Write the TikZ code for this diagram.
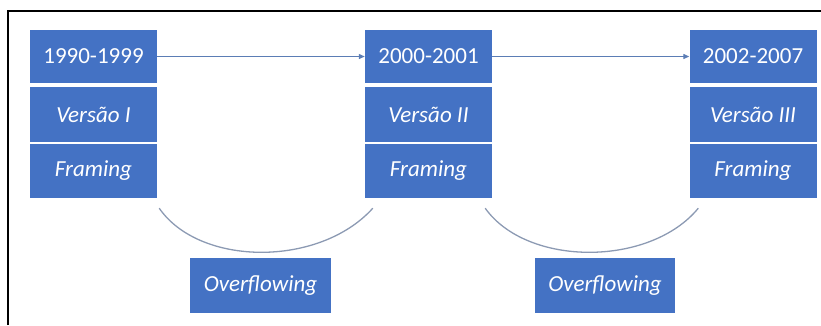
\documentclass[tikz,border=0pt]{standalone}
\usepackage{fontspec}
\setmainfont{Carlito}
\usetikzlibrary{arrows.meta,calc}
\definecolor{boxblue}{HTML}{4472C4}
\definecolor{arrowblue}{HTML}{5B7DB5}
\definecolor{arcgrey}{HTML}{8C9AB3}
\begin{document}
\begin{tikzpicture}[x=1pt,y=-1pt,
  bx/.style={fill=boxblue, draw=none, text=white, minimum width=127pt, inner sep=0pt, font=\fontsize{23}{25}\selectfont},
  it/.style={bx, font=\fontsize{23}{25}\selectfont\itshape},
  conn/.style={arrowblue, line width=1.2pt, -{Triangle[length=6pt,width=5pt]}},
  arc/.style={arcgrey, line width=1.3pt}]
\useasboundingbox (0,0) rectangle (821,325);
\draw[line width=2.2pt] (8,325) -- (8,11) -- (821,11);
% column 1
\node[bx, minimum height=53pt] (y1) at (93.5,56.5) {1990-1999};
\node[it, minimum height=55pt] (v1) at (93.5,114.5) {Versão I};
\node[it, minimum height=54pt] (f1) at (93.5,171) {Framing};
% column 2
\node[bx, minimum height=53pt] (y2) at (428.5,56.5) {2000-2001};
\node[it, minimum height=55pt] (v2) at (428.5,114.5) {Versão II};
\node[it, minimum height=54pt] (f2) at (428.5,171) {Framing};
% column 3
\node[bx, minimum height=53pt] (y3) at (753,56.5) {2002-2007};
\node[it, minimum height=55pt] (v3) at (753,114.5) {Versão III};
\node[it, minimum height=54pt] (f3) at (753,171) {Framing};
% overflowing
\node[it, minimum width=141pt, minimum height=55pt] (o1) at (260.5,285.5) {Overflowing};
\node[it, minimum width=140pt, minimum height=55pt] (o2) at (605,285.5) {Overflowing};
% arrows
\draw[conn] (y1.east) -- (y2.west);
\draw[conn] (y2.east) -- (y3.west);
% arcs
\coordinate (a1s) at ($(f1.south east)+(2,10)$);
\coordinate (a1e) at ($(f2.south west)+(8,10)$);
\coordinate (a2s) at ($(f2.south east)+(-7,10)$);
\coordinate (a2e) at ($(f3.south west)+(9,10)$);
\draw[arc] (a1s) .. controls (200,267) and (320,267) .. (a1e);
\draw[arc] (a2s) .. controls (527,267) and (650,267) .. (a2e);
\end{tikzpicture}
\end{document}
